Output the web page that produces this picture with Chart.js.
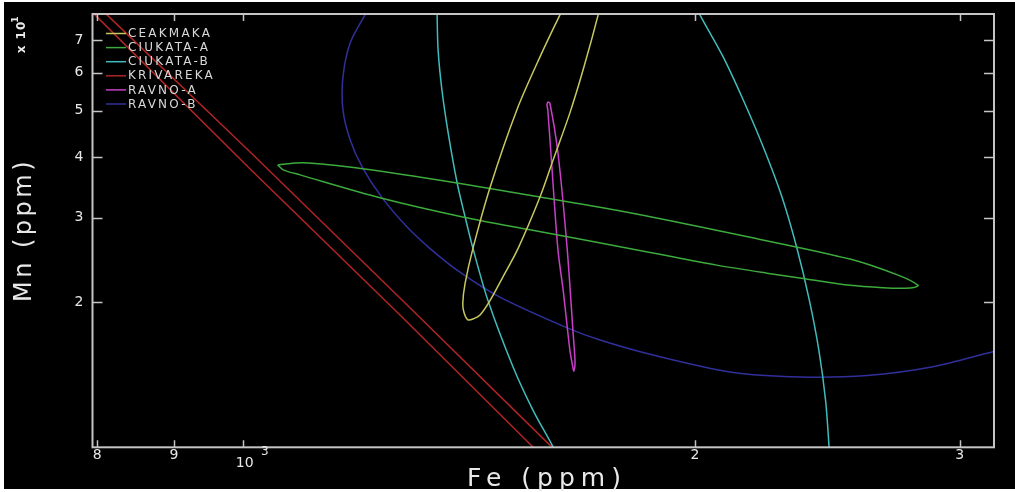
<!DOCTYPE html>
<html><head><meta charset="utf-8">
<script src="https://cdn.jsdelivr.net/npm/chart.js@4"></script>
<style>html,body{margin:0;padding:0;background:#fff;overflow:hidden}canvas{display:block}</style>
</head><body>
<div style="width:1015px;height:492px;position:relative"><canvas id="c" width="1015" height="492"></canvas></div>
<script>
// ---- tick definitions ----
const xTickValues = [800, 900, 1000, 2000, 3000];
const xTickLabels = ['8', '9', '10', '2', '3'];
const yTickValues = [20, 30, 40, 50, 60, 70];
const yTickLabels = ['2', '3', '4', '5', '6', '7'];

// ---- series (Fe ppm, Mn ppm); null = break in the line ----
const seriesNames = ['CEAKMAKA', 'CIUKATA-A', 'CIUKATA-B', 'KRIVAREKA', 'RAVNO-A', 'RAVNO-B'];

const ceakmakaFe = [1646,1626,1577,1522,1461,1423,1406,1401,1404,1412,1425,1438,1461,1490,1525,1577,1609,1651,1687,1724,1732];
const ceakmakaMn = [85.0,79.1,64.7,50.2,34.7,25.9,21.9,19.9,19.0,18.4,18.5,18.8,20.2,22.6,25.9,33.1,39.5,49.5,61.7,79.1,85.0];

const ciukataAFe = [1055,1097,1202,1389,1577,1810,2176,2536,2738,2815,2802,2759,2668,2536,2367,2233,2068,1867,1553,1401,1234,1092,1064,1055];
const ciukataAMn = [38.6,39.0,37.9,35.4,33.1,30.7,27.3,24.6,22.7,21.7,21.5,21.4,21.45,21.7,22.4,23.0,23.9,25.4,28.3,30.1,33.0,36.8,37.7,38.6];

const ciukataBFe = [1347,1347,1349,1357,1370,1389,1406,1423,1456,1513,1560,1609,1616, null, 1994,2015,2088,2153,2220,2285,2338,2383,2418,2443,2456,2458];
const ciukataBMn = [85.0,79.1,66.9,55.2,45.0,35.4,30.1,25.9,20.2,14.7,11.95,10.01,9.64, null, 85.0,79.1,64.7,52.7,42.1,33.1,25.9,20.2,15.9,12.5,10.01,9.41];

const krivarekaFe = [793.1,812.2,1011,1273,1606,1639, null, 779.3,797.4,1011,1273,1560,1592];
const krivarekaMn = [85.0,79.1,41.1,20.4,10.01,9.41, null, 85.0,79.1,37.9,18.8,10.01,9.41];

const ravnoAFe = [1596,1594,1596,1606,1621,1634,1651,1659,1661,1664,1659,1644,1621,1601,1596];
const ravnoAMn = [52.2,51.4,50.2,38.2,25.7,21.2,15.9,14.6,14.4,15.0,17.3,25.9,40.9,51.9,52.2];

const ravnoBFe = [1221,1206,1179,1166,1166,1179,1202,1238,1286,1332,1395,1483,1644,1729,1867,2120,2349,2603,2880,3157,3241];
const ravnoBMn = [85.0,79.1,69.2,58.8,50.2,43.5,38.0,33.0,28.7,25.9,23.1,20.5,17.7,16.7,15.6,14.3,14.0,14.1,14.7,15.8,16.1];

const seriesColors = ['#c8c860', '#3caa3c', '#40bcbc', '#b02424', '#c840c8', '#30309c'];

function pts(xs, ys) {
  return xs.map((x, i) => (x === null ? {x: null, y: null} : {x: x, y: ys[i]}));
}
const allData = [
  pts(ceakmakaFe, ceakmakaMn),
  pts(ciukataAFe, ciukataAMn),
  pts(ciukataBFe, ciukataBMn),
  pts(krivarekaFe, krivarekaMn),
  pts(ravnoAFe, ravnoAMn),
  pts(ravnoBFe, ravnoBMn)
];

const FONT = '"DejaVu Sans", sans-serif';
const TXT = '#e8e8e8';
const FRAME = '#c4c4c4';

const decor = {
  id: 'decor',
  beforeDraw(chart) {
    const c = chart.ctx;
    c.save();
    c.fillStyle = '#ffffff';
    c.fillRect(0, 0, chart.width, chart.height);
    c.fillStyle = '#000000';
    c.fillRect(4, 2, chart.width - 4, 487);
    c.restore();
  },
  afterDraw(chart) {
    const c = chart.ctx;
    const a = chart.chartArea;
    const xs = chart.scales.x, ys = chart.scales.y;
    c.save();
    // frame
    c.strokeStyle = FRAME;
    c.lineWidth = 2;
    c.strokeRect(a.left, a.top, a.right - a.left, a.bottom - a.top);
    // ticks
    c.lineWidth = 1.5;
    c.beginPath();
    xTickValues.forEach(v => {
      const p = Math.round(xs.getPixelForValue(v)) + 0.5;
      c.moveTo(p, a.bottom); c.lineTo(p, a.bottom - 7);
      c.moveTo(p, a.top); c.lineTo(p, a.top + 7);
    });
    yTickValues.forEach(v => {
      const p = Math.round(ys.getPixelForValue(v)) + 0.5;
      c.moveTo(a.left, p); c.lineTo(a.left + 10, p);
      c.moveTo(a.right, p); c.lineTo(a.right - 10, p);
    });
    c.stroke();
    // tick labels
    c.fillStyle = TXT;
    c.font = '14px ' + FONT;
    c.textAlign = 'center';
    c.textBaseline = 'middle';
    xTickValues.forEach((v, i) => {
      const p = xs.getPixelForValue(v);
      if (v === 1000) {
        c.fillText(xTickLabels[i], p + 2, 463);
        c.font = '12px ' + FONT;
        c.fillText('3', p + 22, 452);
        c.font = '14px ' + FONT;
      } else {
        c.fillText(xTickLabels[i], p, 455);
      }
    });
    yTickValues.forEach((v, i) => {
      const p = ys.getPixelForValue(v);
      c.fillText(yTickLabels[i], 79, p);
    });
    // axis titles
    c.font = '25px ' + FONT;
    c.letterSpacing = '6px';
    c.fillText('Fe (ppm)', 547, 479);
    c.save();
    c.translate(25, 230);
    c.rotate(-Math.PI / 2);
    c.font = '24px ' + FONT;
    c.letterSpacing = '3.5px';
    c.fillText('Mn (ppm)', 0, 0);
    c.restore();
    c.save();
    c.translate(22, 34);
    c.rotate(-Math.PI / 2);
    c.letterSpacing = '1px';
    c.font = 'bold 12px ' + FONT;
    c.fillText('x 10', -3, 0);
    c.font = 'bold 9px ' + FONT;
    c.fillText('1', 15, -6);
    c.restore();
    // legend
    c.font = '12px ' + FONT;
    c.letterSpacing = '2.2px';
    c.textAlign = 'left';
    chart.data.datasets.forEach((ds, i) => {
      const y = 33.5 + i * 14.1;
      c.strokeStyle = ds.borderColor;
      c.lineWidth = 1.5;
      c.beginPath();
      c.moveTo(106, y); c.lineTo(126, y);
      c.stroke();
      c.fillStyle = '#d8d8d8';
      c.fillText(ds.label, 128, y + 0.5);
    });
    c.restore();
  }
};

new Chart(document.getElementById('c'), {
  type: 'scatter',
  data: {
    datasets: allData.map((d, i) => ({
      label: seriesNames[i],
      data: d,
      showLine: true,
      borderColor: seriesColors[i],
      backgroundColor: seriesColors[i],
      borderWidth: 1.5,
      pointRadius: 0,
      pointHoverRadius: 0,
      fill: false,
      spanGaps: false,
      tension: i === 3 ? 0 : 0.3
    }))
  },
  options: {
    responsive: false,
    animation: false,
    devicePixelRatio: 1,
    layout: { padding: { left: 92.5, top: 14, right: 21, bottom: 44.7 } },
    scales: {
      x: { type: 'logarithmic', min: 794.33, max: 3162.28, display: false },
      y: { type: 'logarithmic', min: 10, max: 79.43, display: false }
    },
    plugins: { legend: { display: false }, tooltip: { enabled: false } }
  },
  plugins: [decor]
});
</script>
</body></html>
